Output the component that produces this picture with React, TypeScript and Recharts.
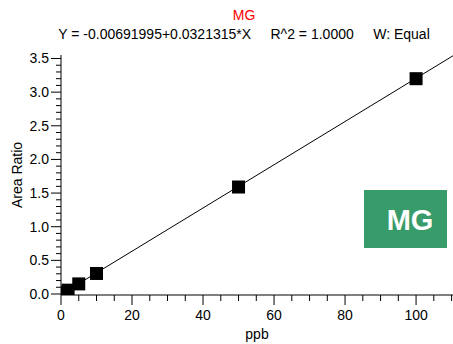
import { ComposedChart, Line, Scatter, XAxis, YAxis } from "recharts";

const FONT = "'Liberation Sans', Arial, sans-serif";

// calibration points (ppb vs area ratio)
const concentrations = [0, 1, 2, 5, 10, 50, 100];
const areaRatios = [0.0, 0.025, 0.057, 0.15, 0.305, 1.59, 3.2];

// fitted line end points, Y = -0.00691995 + 0.0321315*X
const fitX = [0, 110.4];
const fitY = [-0.0069, 3.5405];

const xMajorTicks = [0, 20, 40, 60, 80, 100];
const xTicks = [0, 5, 10, 15, 20, 25, 30, 35, 40, 45, 50, 55, 60, 65, 70, 75, 80, 85, 90, 95, 100, 105, 110];
const yMajorTicks = [0, 0.5, 1, 1.5, 2, 2.5, 3, 3.5];
const yTicks = [
  0, 0.1, 0.2, 0.3, 0.4, 0.5, 0.6, 0.7, 0.8, 0.9, 1, 1.1, 1.2, 1.3, 1.4, 1.5, 1.6, 1.7,
  1.8, 1.9, 2, 2.1, 2.2, 2.3, 2.4, 2.5, 2.6, 2.7, 2.8, 2.9, 3, 3.1, 3.2, 3.3, 3.4, 3.5,
];

const points = concentrations.map((x, i) => ({ x, y: areaRatios[i] }));
const fitLine = fitX.map((x, i) => ({ x, y: fitY[i] }));

const isMajor = (list: number[], v: number) => list.some((m) => Math.abs(m - v) < 1e-6);

function YTick({ x, y, payload }: any) {
  const major = isMajor(yMajorTicks, payload.value);
  return (
    <g>
      <line x1={x - (major ? 10 : 5)} x2={x} y1={y} y2={y} stroke="#000" />
      {major && (
        <text x={x - 12} y={y + 5} textAnchor="end" fontSize={14} fontFamily={FONT} fill="#000">
          {payload.value.toFixed(1)}
        </text>
      )}
    </g>
  );
}

function XTick({ x, y, payload }: any) {
  const major = isMajor(xMajorTicks, payload.value);
  return (
    <g>
      <line x1={x} x2={x} y1={y} y2={y + (major ? 10 : 6)} stroke="#000" />
      {major && (
        <text x={x} y={y + 25} textAnchor="middle" fontSize={14} fontFamily={FONT} fill="#000">
          {payload.value}
        </text>
      )}
    </g>
  );
}

const Square = (p: any) => <rect x={p.cx - 6.5} y={p.cy - 6.5} width={13} height={13} fill="#000" />;

export default function App() {
  return (
    <div style={{ position: "absolute", left: 0, top: 0, width: 453, height: 344, background: "#fff" }}>
      <ComposedChart width={453} height={344} margin={{ top: 55, right: 0, bottom: 0, left: 0 }}>
        <XAxis
          dataKey="x"
          type="number"
          domain={[0, 110.4]}
          allowDataOverflow
          ticks={xTicks}
          interval={0}
          height={49}
          tickSize={0}
          tickMargin={0}
          tickLine={false}
          stroke="#000"
          tick={<XTick />}
          label={(props: any) => (
            <text x={257} y={339} textAnchor="middle" fontSize={14} fontFamily={FONT} fill="#000">
              ppb
            </text>
          )}
        />
        <YAxis
          dataKey="y"
          type="number"
          domain={[-0.015, 3.552]}
          allowDataOverflow
          ticks={yTicks}
          interval={0}
          width={61}
          tickSize={0}
          tickMargin={0}
          tickLine={false}
          stroke="#000"
          tick={<YTick />}
          label={(props: any) => (
            <text
              x={22}
              y={175}
              transform="rotate(-90 22 175)"
              textAnchor="middle"
              fontSize={14}
              fontFamily={FONT}
              fill="#000"
            >
              Area Ratio
            </text>
          )}
        />
        <Line
          data={fitLine}
          dataKey="y"
          type="linear"
          dot={false}
          activeDot={false}
          stroke="#000"
          strokeWidth={1}
          isAnimationActive={false}
        />
        <Scatter data={points} dataKey="y" shape={Square} isAnimationActive={false} />
      </ComposedChart>
      <svg
        width={453}
        height={344}
        style={{ position: "absolute", left: 0, top: 0, pointerEvents: "none" }}
      >
        <text x={244} y={20} textAnchor="middle" fontSize={14} fontFamily={FONT} fill="#ff0000">
          MG
        </text>
        <text
          x={244}
          y={39}
          textAnchor="middle"
          fontSize={14}
          fontFamily={FONT}
          fill="#000"
          style={{ whiteSpace: "pre" }}
        >
          {"Y = -0.00691995+0.0321315*X     R^2 = 1.0000     W: Equal"}
        </text>
        <rect x={364} y={190} width={83} height={58} fill="#389b6a" />
        <text x={410} y={230} textAnchor="middle" fontSize={29} fontWeight="bold" fontFamily={FONT} fill="#fff">
          MG
        </text>
      </svg>
    </div>
  );
}
